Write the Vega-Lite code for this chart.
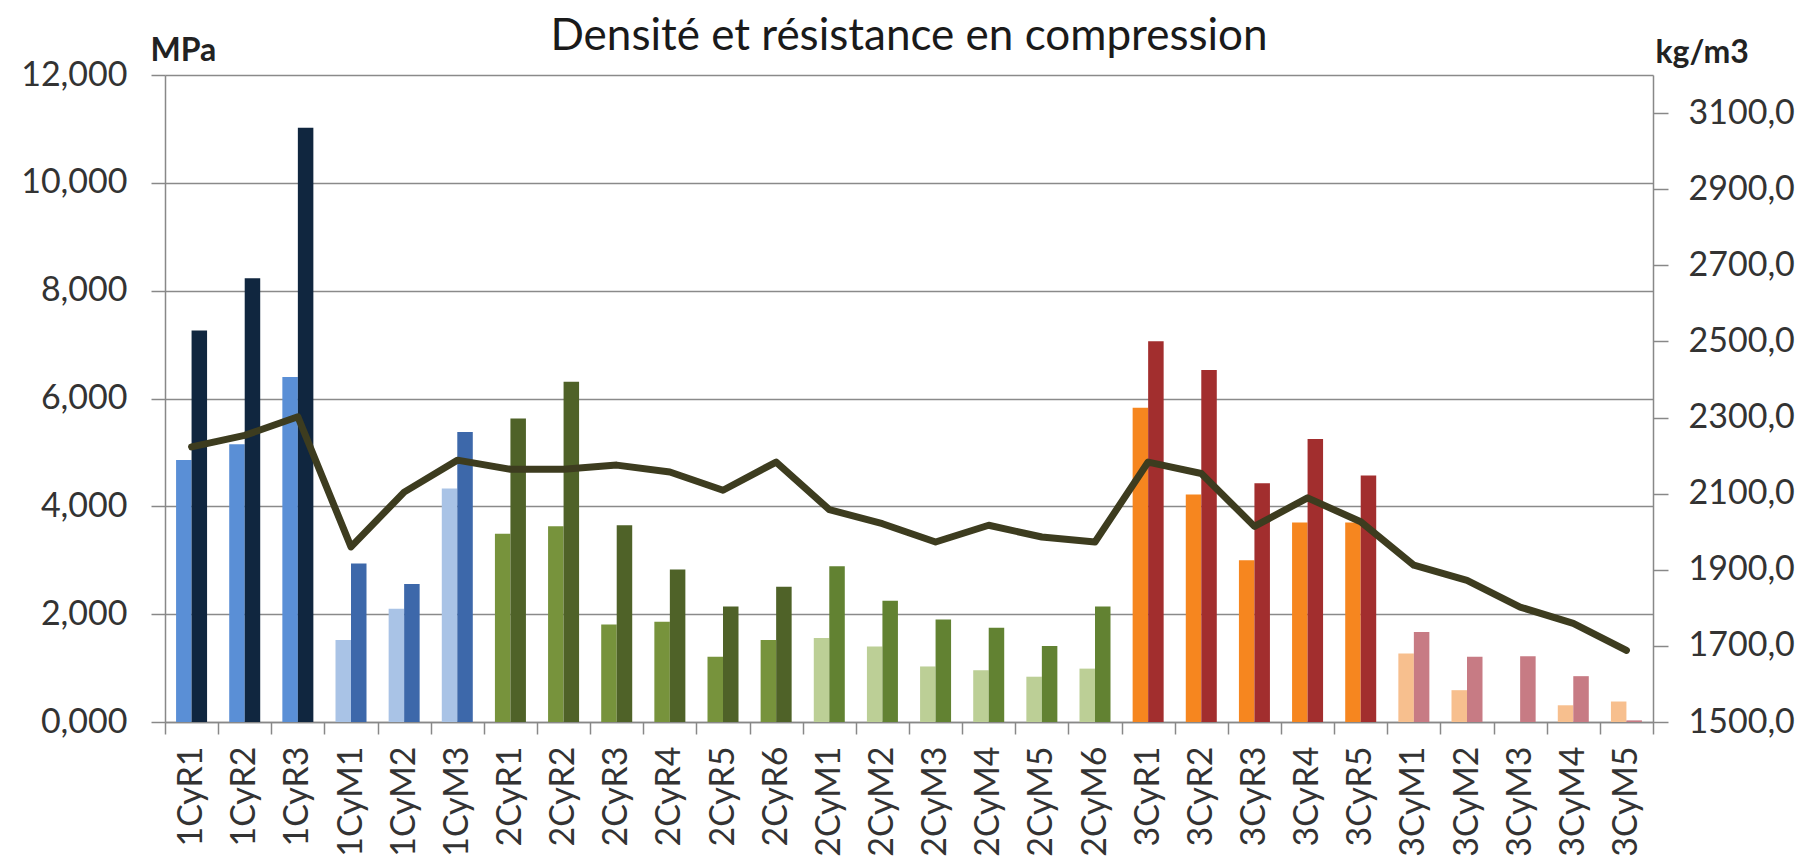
{
  "$schema": "https://vega.github.io/schema/vega-lite/v6.json",
  "width": 1488,
  "height": 647,
  "autosize": {"type": "none"},
  "padding": {"left": 165, "top": 75, "right": 157, "bottom": 137},
  "background": "white",
  "config": {"view": {"stroke": null}, "font": "Lato"},
  "title": {
    "text": "Densité et résistance en compression",
    "font": "Lato",
    "fontSize": 44,
    "fontWeight": "normal",
    "color": "#1a1a1a",
    "anchor": "middle",
    "frame": "group",
    "offset": -25
  },
  "datasets": {
    "bars": [
      {"cat": "1CyR1", "series": "a", "kind": "1R_a", "mpa": 4.86},
      {"cat": "1CyR1", "series": "b", "kind": "1R_b", "mpa": 7.26},
      {"cat": "1CyR2", "series": "a", "kind": "1R_a", "mpa": 5.15},
      {"cat": "1CyR2", "series": "b", "kind": "1R_b", "mpa": 8.23},
      {"cat": "1CyR3", "series": "a", "kind": "1R_a", "mpa": 6.40},
      {"cat": "1CyR3", "series": "b", "kind": "1R_b", "mpa": 11.02},
      {"cat": "1CyM1", "series": "a", "kind": "1M_a", "mpa": 1.52},
      {"cat": "1CyM1", "series": "b", "kind": "1M_b", "mpa": 2.94},
      {"cat": "1CyM2", "series": "a", "kind": "1M_a", "mpa": 2.10},
      {"cat": "1CyM2", "series": "b", "kind": "1M_b", "mpa": 2.56},
      {"cat": "1CyM3", "series": "a", "kind": "1M_a", "mpa": 4.33},
      {"cat": "1CyM3", "series": "b", "kind": "1M_b", "mpa": 5.38},
      {"cat": "2CyR1", "series": "a", "kind": "2R_a", "mpa": 3.49},
      {"cat": "2CyR1", "series": "b", "kind": "2R_b", "mpa": 5.63},
      {"cat": "2CyR2", "series": "a", "kind": "2R_a", "mpa": 3.63},
      {"cat": "2CyR2", "series": "b", "kind": "2R_b", "mpa": 6.31},
      {"cat": "2CyR3", "series": "a", "kind": "2R_a", "mpa": 1.81},
      {"cat": "2CyR3", "series": "b", "kind": "2R_b", "mpa": 3.65},
      {"cat": "2CyR4", "series": "a", "kind": "2R_a", "mpa": 1.86},
      {"cat": "2CyR4", "series": "b", "kind": "2R_b", "mpa": 2.83},
      {"cat": "2CyR5", "series": "a", "kind": "2R_a", "mpa": 1.21},
      {"cat": "2CyR5", "series": "b", "kind": "2R_b", "mpa": 2.14},
      {"cat": "2CyR6", "series": "a", "kind": "2R_a", "mpa": 1.52},
      {"cat": "2CyR6", "series": "b", "kind": "2R_b", "mpa": 2.51},
      {"cat": "2CyM1", "series": "a", "kind": "2M_a", "mpa": 1.56},
      {"cat": "2CyM1", "series": "b", "kind": "2M_b", "mpa": 2.89},
      {"cat": "2CyM2", "series": "a", "kind": "2M_a", "mpa": 1.40},
      {"cat": "2CyM2", "series": "b", "kind": "2M_b", "mpa": 2.25},
      {"cat": "2CyM3", "series": "a", "kind": "2M_a", "mpa": 1.03},
      {"cat": "2CyM3", "series": "b", "kind": "2M_b", "mpa": 1.90},
      {"cat": "2CyM4", "series": "a", "kind": "2M_a", "mpa": 0.96},
      {"cat": "2CyM4", "series": "b", "kind": "2M_b", "mpa": 1.75},
      {"cat": "2CyM5", "series": "a", "kind": "2M_a", "mpa": 0.84},
      {"cat": "2CyM5", "series": "b", "kind": "2M_b", "mpa": 1.41},
      {"cat": "2CyM6", "series": "a", "kind": "2M_a", "mpa": 0.99},
      {"cat": "2CyM6", "series": "b", "kind": "2M_b", "mpa": 2.14},
      {"cat": "3CyR1", "series": "a", "kind": "3R_a", "mpa": 5.83},
      {"cat": "3CyR1", "series": "b", "kind": "3R_b", "mpa": 7.06},
      {"cat": "3CyR2", "series": "a", "kind": "3R_a", "mpa": 4.22},
      {"cat": "3CyR2", "series": "b", "kind": "3R_b", "mpa": 6.53},
      {"cat": "3CyR3", "series": "a", "kind": "3R_a", "mpa": 3.00},
      {"cat": "3CyR3", "series": "b", "kind": "3R_b", "mpa": 4.43},
      {"cat": "3CyR4", "series": "a", "kind": "3R_a", "mpa": 3.70},
      {"cat": "3CyR4", "series": "b", "kind": "3R_b", "mpa": 5.25},
      {"cat": "3CyR5", "series": "a", "kind": "3R_a", "mpa": 3.70},
      {"cat": "3CyR5", "series": "b", "kind": "3R_b", "mpa": 4.57},
      {"cat": "3CyM1", "series": "a", "kind": "3M_a", "mpa": 1.27},
      {"cat": "3CyM1", "series": "b", "kind": "3M_b", "mpa": 1.67},
      {"cat": "3CyM2", "series": "a", "kind": "3M_a", "mpa": 0.59},
      {"cat": "3CyM2", "series": "b", "kind": "3M_b", "mpa": 1.21},
      {"cat": "3CyM3", "series": "a", "kind": "3M_a", "mpa": 0.0},
      {"cat": "3CyM3", "series": "b", "kind": "3M_b", "mpa": 1.22},
      {"cat": "3CyM4", "series": "a", "kind": "3M_a", "mpa": 0.31},
      {"cat": "3CyM4", "series": "b", "kind": "3M_b", "mpa": 0.85},
      {"cat": "3CyM5", "series": "a", "kind": "3M_a", "mpa": 0.38},
      {"cat": "3CyM5", "series": "b", "kind": "3M_b", "mpa": 0.03}
    ],
    "dens": [
      {"cat": "1CyR1", "dens": 2223},
      {"cat": "1CyR2", "dens": 2253},
      {"cat": "1CyR3", "dens": 2302},
      {"cat": "1CyM1", "dens": 1960},
      {"cat": "1CyM2", "dens": 2104},
      {"cat": "1CyM3", "dens": 2188},
      {"cat": "2CyR1", "dens": 2164},
      {"cat": "2CyR2", "dens": 2164},
      {"cat": "2CyR3", "dens": 2175},
      {"cat": "2CyR4", "dens": 2157},
      {"cat": "2CyR5", "dens": 2109},
      {"cat": "2CyR6", "dens": 2183},
      {"cat": "2CyM1", "dens": 2058},
      {"cat": "2CyM2", "dens": 2021},
      {"cat": "2CyM3", "dens": 1973},
      {"cat": "2CyM4", "dens": 2017},
      {"cat": "2CyM5", "dens": 1986},
      {"cat": "2CyM6", "dens": 1973},
      {"cat": "3CyR1", "dens": 2183},
      {"cat": "3CyR2", "dens": 2153},
      {"cat": "3CyR3", "dens": 2014},
      {"cat": "3CyR4", "dens": 2089},
      {"cat": "3CyR5", "dens": 2026},
      {"cat": "3CyM1", "dens": 1912},
      {"cat": "3CyM2", "dens": 1872},
      {"cat": "3CyM3", "dens": 1802},
      {"cat": "3CyM4", "dens": 1759},
      {"cat": "3CyM5", "dens": 1688}
    ]
  },
  "encoding": {
    "x": {
      "field": "cat",
      "type": "nominal",
      "scale": {
        "domain": ["1CyR1","1CyR2","1CyR3","1CyM1","1CyM2","1CyM3","2CyR1","2CyR2","2CyR3","2CyR4","2CyR5","2CyR6","2CyM1","2CyM2","2CyM3","2CyM4","2CyM5","2CyM6","3CyR1","3CyR2","3CyR3","3CyR4","3CyR5","3CyM1","3CyM2","3CyM3","3CyM4","3CyM5"],
        "paddingInner": 0,
        "paddingOuter": 0
      },
      "axis": {
        "title": null,
        "labelAngle": -90,
        "labelFontSize": 34,
        "labelColor": "#333333",
        "labelPadding": 12,
        "tickBand": "extent",
        "tickSize": 12,
        "tickWidth": 1.5,
        "tickColor": "#888888",
        "domainColor": "#888888",
        "domainWidth": 1.5,
        "grid": false
      }
    }
  },
  "layer": [
    {
      "data": {"name": "bars"},
      "mark": {"type": "bar"},
      "encoding": {
        "xOffset": {
          "field": "series",
          "type": "nominal",
          "scale": {"domain": ["a", "b"], "paddingInner": 0, "paddingOuter": 0.714}
        },
        "y": {
          "field": "mpa",
          "type": "quantitative",
          "scale": {"domain": [0, 12], "nice": false, "zero": true},
          "axis": {
            "orient": "left",
            "values": [0, 2, 4, 6, 8, 10, 12],
            "labelExpr": "replace(format(datum.value, '.3f'), '.', ',')",
            "grid": true,
            "gridColor": "#8a8a8a",
            "gridWidth": 1.5,
            "domainColor": "#888888",
            "domainWidth": 1.5,
            "tickColor": "#888888",
            "tickWidth": 1.5,
            "tickSize": 14,
            "labelFontSize": 34,
            "labelColor": "#333333",
            "labelPadding": 24,
            "title": "MPa",
            "titleAngle": 0,
            "titleAlign": "left",
            "titleBaseline": "alphabetic",
            "titleX": -15,
            "titleY": -15,
            "titleFontSize": 32,
            "titleFontWeight": "bold",
            "titleColor": "#222222"
          }
        },
        "color": {
          "field": "kind",
          "type": "nominal",
          "legend": null,
          "scale": {
            "domain": ["1R_a","1R_b","1M_a","1M_b","2R_a","2R_b","2M_a","2M_b","3R_a","3R_b","3M_a","3M_b"],
            "range": ["#5a8fd6","#10263f","#a9c3e6","#3d68aa","#77933c","#4f6228","#bccf96","#628232","#f6861f","#a22e2e","#f7bf8e","#c77b84"]
          }
        }
      }
    },
    {
      "data": {"name": "dens"},
      "mark": {"type": "line", "color": "#3d3c1f", "strokeWidth": 7, "strokeJoin": "round", "strokeCap": "round"},
      "encoding": {
        "y": {
          "field": "dens",
          "type": "quantitative",
          "scale": {"domain": [1500, 3200], "nice": false, "zero": false},
          "axis": {
            "orient": "right",
            "values": [1500, 1700, 1900, 2100, 2300, 2500, 2700, 2900, 3100],
            "labelExpr": "replace(format(datum.value, '.1f'), '.', ',')",
            "grid": false,
            "domainColor": "#888888",
            "domainWidth": 1.5,
            "tickColor": "#888888",
            "tickWidth": 1.5,
            "tickSize": 15,
            "labelFontSize": 34,
            "labelColor": "#333333",
            "labelPadding": 20,
            "title": "kg/m3",
            "titleAngle": 0,
            "titleAlign": "left",
            "titleBaseline": "alphabetic",
            "titleX": 2,
            "titleY": -13,
            "titleFontSize": 32,
            "titleFontWeight": "bold",
            "titleColor": "#222222"
          }
        }
      }
    }
  ],
  "resolve": {"scale": {"y": "independent"}}
}
